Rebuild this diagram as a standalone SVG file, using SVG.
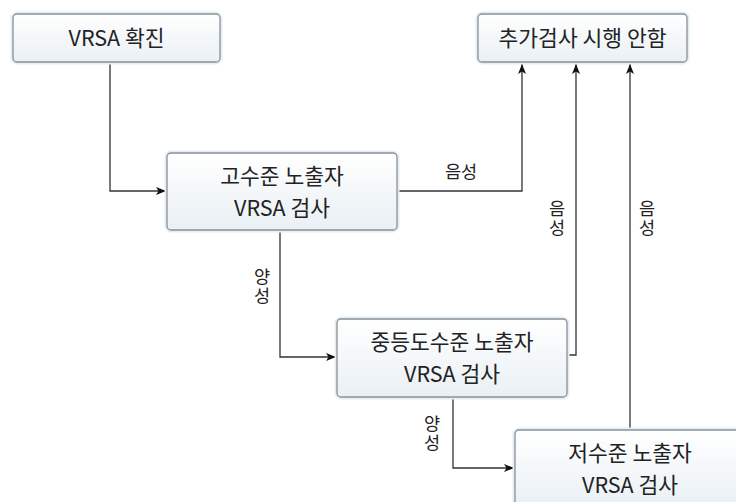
<svg xmlns="http://www.w3.org/2000/svg" width="736" height="502" viewBox="0 0 736 502">
<defs>
<linearGradient id="g" x1="0" y1="0" x2="0" y2="1">
<stop offset="0" stop-color="#ffffff"/>
<stop offset="1" stop-color="#e9f0f4"/>
</linearGradient>
<marker id="a" viewBox="0 0 10 10" refX="10" refY="5" markerWidth="10" markerHeight="10" markerUnits="userSpaceOnUse" orient="auto">
<path d="M0,1 L10,5 L0,9 L2.5,5 Z" fill="#111"/>
</marker>
<style>
.glow{fill:none;stroke:#e4eef5;stroke-width:5}
.box{fill:url(#g);stroke:#8c9094;stroke-width:1.3}
.t{font-family:"Noto Sans CJK KR","Noto Sans",sans-serif;font-size:21.5px;fill:#222;text-anchor:middle}
.l{font-family:"Noto Sans CJK KR","Noto Sans",sans-serif;font-size:17.5px;fill:#222;text-anchor:middle}
.v{writing-mode:vertical-rl;text-orientation:upright;letter-spacing:2px}
.c{fill:none;stroke:#333;stroke-width:1.3}
</style>
</defs>
<g id="connectors">
<path class="c" d="M110,62 V191 H166" marker-end="url(#a)"/>
<path class="c" d="M397,191 H522 V64" marker-end="url(#a)"/>
<path class="c" d="M280,230 V357 H336" marker-end="url(#a)"/>
<path class="c" d="M567,355 H576 V64" marker-end="url(#a)"/>
<path class="c" d="M630,430 V64" marker-end="url(#a)"/>
<path class="c" d="M453,397 V468 H514" marker-end="url(#a)"/>
<text class="l" x="461" y="178">음성</text>
<text class="l v" x="262" y="287">양성</text>
<text class="l v" x="557" y="219">음성</text>
<text class="l v" x="647" y="219">음성</text>
<text class="l v" x="432" y="434">양성</text>
</g>
<g id="n1">
<rect class="glow" x="13" y="14" width="207" height="48" rx="4"/>
<rect class="box" x="13" y="14" width="207" height="48" rx="4"/>
<text class="t" x="116.5" y="45.5">VRSA 확진</text>
</g>
<g id="n2">
<rect class="glow" x="478" y="14" width="209" height="48" rx="4"/>
<rect class="box" x="478" y="14" width="209" height="48" rx="4"/>
<text class="t" x="582.5" y="45.5">추가검사 시행 안함</text>
</g>
<g id="n3">
<rect class="glow" x="167" y="153" width="230" height="77" rx="4"/>
<rect class="box" x="167" y="153" width="230" height="77" rx="4"/>
<text class="t" x="282" y="184">고수준 노출자</text>
<text class="t" x="282" y="216">VRSA 검사</text>
</g>
<g id="n4">
<rect class="glow" x="337" y="319" width="230" height="78" rx="4"/>
<rect class="box" x="337" y="319" width="230" height="78" rx="4"/>
<text class="t" x="452" y="350">중등도수준 노출자</text>
<text class="t" x="452" y="382">VRSA 검사</text>
</g>
<g id="n5">
<rect class="glow" x="515" y="430" width="230" height="78" rx="4"/>
<rect class="box" x="515" y="430" width="230" height="78" rx="4"/>
<text class="t" x="630" y="461">저수준 노출자</text>
<text class="t" x="630" y="493">VRSA 검사</text>
</g>
</svg>
